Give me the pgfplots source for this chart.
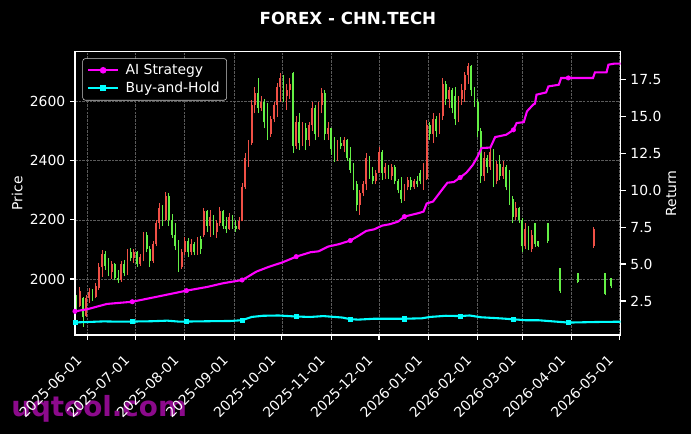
\documentclass[border=0pt]{standalone}
\usepackage{fontspec}
\setmainfont{DejaVu Sans}
\usepackage{pgfplots}
\usepackage{pgfplotstable}
\pgfplotsset{compat=1.18}

\definecolor{upred}{RGB}{240,80,70}
\definecolor{dngreen}{RGB}{100,240,70}
\definecolor{aimag}{RGB}{255,0,255}
\definecolor{bhcyan}{RGB}{0,255,255}
\definecolor{gridgray}{RGB}{90,90,90}
\definecolor{wmark}{RGB}{140,10,140}

% daily candles, d = days since 2025-06-01
\pgfplotstableread{
d o h l c
-7 1925 1946 1890 1910
-5 1910 1973 1905 1960
-3 1935 1939 1838 1870
-1 1875 1945 1870 1935
1 1935 1970 1919 1955
3 1955 1965 1925 1940
5 1940 1985 1935 1975
7 1970 2054 1963 2040
9 2040 2098 2007 2085
11 2085 2095 2030 2045
13 2045 2070 2010 2025
15 2025 2060 2000 2050
17 2050 2055 1995 2005
19 2005 2030 1986 1995
21 1995 2060 1990 2050
23 2050 2065 2010 2020
25 2020 2100 2015 2090
27 2090 2105 2060 2070
29 2070 2100 2055 2090
31 2090 2095 2040 2050
33 2050 2085 2045 2075
35 2070 2159 2060 2150
37 2150 2160 2090 2100
39 2100 2110 2040 2060
41 2060 2130 2055 2120
43 2120 2200 2110 2190
45 2190 2257 2170 2240
47 2240 2250 2180 2200
49 2200 2294 2195 2280
51 2280 2290 2180 2200
53 2200 2220 2140 2150
55 2150 2190 2098 2110
57 2110 2132 2024 2040
59 2040 2100 2035 2090
61 2090 2142 2080 2130
63 2130 2140 2074 2090
65 2090 2135 2080 2120
67 2120 2125 2081 2090
69 2090 2142 2081 2135
71 2135 2145 2085 2100
73 2150 2240 2142 2230
75 2230 2235 2160 2180
77 2180 2233 2142 2210
79 2210 2215 2150 2160
81 2160 2200 2140 2190
83 2190 2244 2180 2230
85 2230 2235 2170 2180
87 2180 2210 2156 2170
89 2170 2223 2166 2210
91 2210 2215 2170 2180
93 2180 2200 2160 2170
95 2170 2210 2166 2195
97 2195 2325 2195 2310
99 2310 2426 2305 2410
101 2410 2470 2380 2460
103 2460 2606 2455 2590
105 2590 2650 2560 2630
107 2630 2680 2562 2580
109 2580 2620 2570 2600
111 2600 2610 2510 2530
113 2530 2596 2470 2490
115 2490 2550 2480 2540
117 2540 2600 2530 2590
119 2590 2663 2548 2650
121 2650 2697 2600 2680
123 2680 2690 2600 2620
125 2620 2660 2572 2640
127 2640 2680 2610 2660
129 2697 2700 2426 2450
131 2450 2550 2440 2530
133 2530 2562 2436 2460
135 2460 2530 2450 2510
137 2510 2528 2436 2470
139 2470 2530 2450 2520
141 2520 2599 2500 2580
143 2580 2590 2470 2490
145 2490 2600 2480 2590
147 2590 2646 2560 2630
149 2630 2640 2470 2490
151 2490 2530 2470 2510
153 2510 2511 2420 2440
155 2440 2480 2396 2410
157 2410 2470 2400 2460
159 2460 2480 2440 2450
161 2450 2480 2430 2470
163 2470 2475 2400 2410
165 2410 2447 2359 2370
167 2370 2392 2300 2320
169 2320 2330 2230 2250
171 2250 2300 2217 2290
173 2290 2330 2280 2320
175 2320 2426 2301 2410
177 2410 2415 2340 2350
179 2350 2380 2320 2330
181 2330 2370 2320 2360
183 2360 2447 2359 2430
185 2430 2435 2335 2360
187 2360 2392 2340 2380
189 2380 2385 2340 2350
191 2350 2390 2335 2380
193 2380 2385 2320 2330
195 2330 2340 2290 2300
197 2300 2345 2257 2270
199 2270 2320 2265 2310
201 2310 2345 2300 2335
203 2335 2345 2301 2310
205 2310 2340 2305 2330
207 2330 2350 2310 2320
209 2360 2370 2320 2330
211 2330 2392 2301 2370
213 2340 2538 2335 2520
215 2520 2530 2470 2490
217 2490 2562 2460 2540
219 2540 2550 2480 2500
221 2500 2560 2490 2550
223 2550 2680 2538 2660
225 2660 2670 2590 2610
227 2610 2651 2578 2640
229 2640 2645 2560 2580
231 2620 2650 2521 2540
233 2540 2620 2530 2610
235 2610 2660 2590 2640
237 2640 2700 2600 2690
239 2690 2731 2660 2720
241 2720 2725 2620 2640
243 2640 2650 2582 2600
245 2600 2610 2480 2500
247 2500 2510 2325 2350
249 2350 2430 2330 2410
251 2410 2420 2360 2380
253 2380 2447 2370 2430
255 2430 2440 2311 2330
257 2330 2400 2320 2390
259 2390 2420 2335 2350
261 2350 2400 2340 2380
263 2380 2385 2300 2310
265 2310 2369 2250 2270
267 2270 2280 2190 2210
269 2210 2260 2200 2240
271 2240 2245 2190 2200
273 2200 2206 2091 2110
275 2110 2190 2100 2170
277 2170 2180 2098 2110
279 2100 2166 2091 2150
281 2190 2190 2108 2120
283 2130 2130 2108 2110
289 2190 2190 2122 2130
297 2037 2037 1953 1960
308 2020 2020 1986 1990
318 2110 2176 2105 2170
325 2020 2020 1946 1950
329 2003 2003 1970 1975
}\candles

% AI strategy return, m = 1 where a marker is drawn
\pgfplotstableread{
d r m
-8 1.80 1
0 1.95 0
12 2.30 0
28 2.45 1
44 2.80 0
62 3.20 1
75 3.45 0
85 3.70 0
97 3.92 1
100 4.10 0
106 4.49 0
114 4.82 0
122 5.10 0
127 5.32 0
131 5.50 1
140 5.80 0
145 5.86 0
151 6.18 0
158 6.35 0
165 6.59 1
170 6.90 0
175 7.24 0
180 7.35 0
185 7.60 0
190 7.70 0
195 7.87 0
199 8.21 1
208 8.45 0
211 8.55 0
213 9.10 0
217 9.23 0
221 9.80 0
226 10.50 0
230 10.55 0
234 10.85 1
238 11.19 0
242 11.71 0
245 12.28 0
247.5 12.85 0
253 12.88 0
256 13.59 0
263 13.75 0
267.5 14.08 1
269.5 14.54 0
274 14.60 0
276 15.33 0
280 15.80 0
281 15.85 0
282 16.46 0
288 16.61 0
289.5 17.02 0
296 17.13 0
297.5 17.59 0
302 17.59 1
317.5 17.59 0
318.7 17.97 0
326 17.97 0
327.2 18.49 0
331 18.56 0
335 18.56 0
}\aistrat

% buy-and-hold return
\pgfplotstableread{
d r m
-8 1.05 1
0 1.08 0
10 1.12 0
20 1.10 0
28 1.11 1
40 1.13 0
50 1.17 0
58 1.10 0
62 1.11 1
75 1.13 0
90 1.15 0
97 1.20 1
103 1.42 0
110 1.50 0
120 1.52 0
131 1.45 1
140 1.42 0
148 1.48 0
160 1.38 0
165 1.27 1
170 1.24 0
180 1.30 0
199 1.30 1
210 1.33 0
215 1.42 0
225 1.50 0
234 1.48 1
240 1.52 0
247 1.40 0
260 1.32 0
267.5 1.26 1
275 1.20 0
283 1.20 0
302 1.04 1
320 1.08 0
335 1.10 0
}\buyhold

\begin{document}
\begin{tikzpicture}
\fill[black] (0,0) rectangle (497.52pt,312.48pt);
\node[anchor=base west, text=wmark, inner sep=0pt, font=\fontsize{20}{24}\selectfont\bfseries] at (7.9pt,12.5pt) {uqtool.com};

\begin{axis}[
  at={(54pt,71.28pt)}, anchor=south west,
  width=392.9pt, height=204pt, scale only axis,
  xmin=-8, xmax=334.9, ymin=1810.5, ymax=2769.2,
  xtick={0,30,61,92,122,153,183,214,245,273,304,334},
  xticklabels={2025-06-01,2025-07-01,2025-08-01,2025-09-01,2025-10-01,2025-11-01,2025-12-01,2026-01-01,2026-02-01,2026-03-01,2026-04-01,2026-05-01},
  ytick={2000,2200,2400,2600},
  xtick pos=bottom, ytick pos=left,
  tick align=outside, major tick length=3.5pt,
  axis line style={white, line width=0.8pt},
  tick style={white, line width=0.8pt},
  grid=major,
  major grid style={gridgray, line width=0.5pt, dash pattern=on 1.85pt off 0.8pt},
  /pgf/number format/assume math mode=true,
  /pgf/number format/1000 sep={},
  ticklabel style={text=white, font=\fontsize{10}{12}\selectfont},
  xticklabel style={xshift=-9pt, yshift=-5.5pt, rotate=45, anchor=north east},
  ylabel={Price},
  ylabel style={text=white, font=\fontsize{10}{12}\selectfont, yshift=-1.6pt},
]
\addplot[upred, line width=0.6pt, quiver={u=0, v={\thisrow{h}-\thisrow{l}}},
  restrict expr to domain={\thisrow{c}-\thisrow{o}}{0:100000}] table[x=d, y=l] {\candles};
\addplot[upred, line width=1.3pt, quiver={u=0, v={\thisrow{c}-\thisrow{o}}},
  restrict expr to domain={\thisrow{c}-\thisrow{o}}{0:100000}] table[x=d, y=o] {\candles};
\addplot[dngreen, line width=0.6pt, quiver={u=0, v={\thisrow{h}-\thisrow{l}}},
  restrict expr to domain={\thisrow{o}-\thisrow{c}}{0.001:100000}] table[x=d, y=l] {\candles};
\addplot[dngreen, line width=1.3pt, quiver={u=0, v={\thisrow{o}-\thisrow{c}}},
  restrict expr to domain={\thisrow{o}-\thisrow{c}}{0.001:100000}] table[x=d, y=c] {\candles};
\end{axis}

\begin{axis}[
  at={(54pt,71.28pt)}, anchor=south west,
  width=392.9pt, height=204pt, scale only axis,
  xmin=-8, xmax=334.9, ymin=0.2, ymax=19.37,
  axis y line*=right, axis x line=none,
  ytick={2.5,5,7.5,10,12.5,15,17.5},
  tick align=outside, major tick length=3.5pt,
  axis line style={white, line width=0.8pt},
  tick style={white, line width=0.8pt},
  /pgf/number format/assume math mode=true,
  yticklabel style={text=white, font=\fontsize{10}{12}\selectfont,
    /pgf/number format/.cd, fixed, fixed zerofill, precision=1},
  ylabel={Return},
  ylabel style={text=white, font=\fontsize{10}{12}\selectfont, yshift=3.5pt},
  legend style={at={(0,1)}, anchor=north west, xshift=5.3pt, yshift=-4.75pt,
    fill=black, draw=white!80!black, rounded corners=2pt, text=white,
    font=\fontsize{10}{12}\selectfont, inner xsep=3pt, inner ysep=2pt,
    /tikz/every odd column/.append style={column sep=2.5pt}},
  legend cell align=left,
]
\addlegendimage{aimag, line width=1.5pt, mark=*, mark size=1.6pt,
  legend image code/.code={\draw[mark repeat=2, mark phase=2] plot coordinates {(0pt,0pt) (11pt,0pt) (22pt,0pt)};}}
\addlegendentry{AI Strategy}
\addlegendimage{bhcyan, line width=1.5pt, mark=square*, mark size=1.5pt,
  legend image code/.code={\draw[mark repeat=2, mark phase=2] plot coordinates {(0pt,0pt) (11pt,0pt) (22pt,0pt)};}}
\addlegendentry{Buy-and-Hold}

\addplot[aimag, line width=1.5pt, mark=none, forget plot] table[x=d, y=r] {\aistrat};
\addplot[aimag, only marks, mark=*, mark size=1.6pt, forget plot,
  restrict expr to domain={\thisrow{m}}{0.5:1.5}] table[x=d, y=r] {\aistrat};
\addplot[bhcyan, line width=1.5pt, mark=none, forget plot] table[x=d, y=r] {\buyhold};
\addplot[bhcyan, only marks, mark=square*, mark size=1.5pt, forget plot,
  restrict expr to domain={\thisrow{m}}{0.5:1.5}] table[x=d, y=r] {\buyhold};
\end{axis}

\node[text=white, font=\fontsize{12}{14}\selectfont\bfseries] at (250.5pt,299.5pt) {FOREX - CHN.TECH};
\pgfresetboundingbox
\path[use as bounding box] (0,0) rectangle (497.52pt,312.48pt);
\end{tikzpicture}
\end{document}
